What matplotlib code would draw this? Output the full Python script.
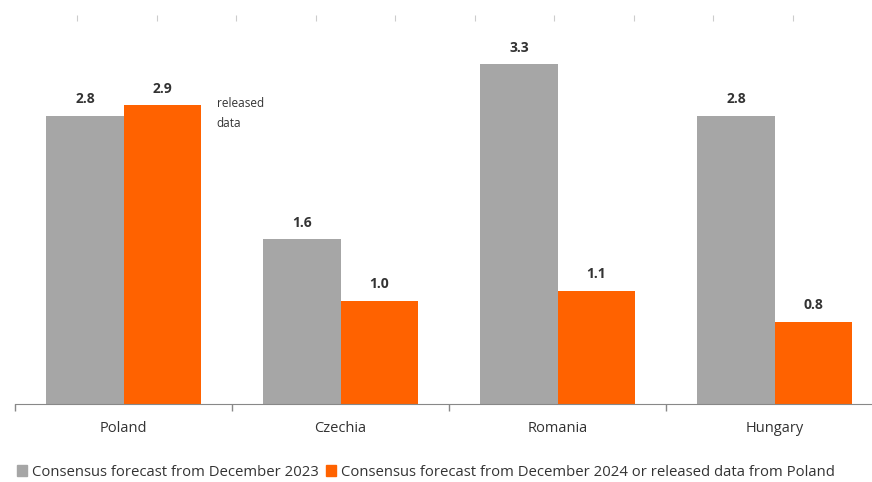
import matplotlib.pyplot as plt
from matplotlib.patches import Patch

plt.rcParams['font.family'] = ['Open Sans', 'DejaVu Sans']

countries = ['Poland', 'Czechia', 'Romania', 'Hungary']
forecast_2023 = [2.8, 1.6, 3.3, 2.8]
forecast_2024 = [2.9, 1.0, 1.1, 0.8]
legend_labels = ['Consensus forecast from December 2023',
                 'Consensus forecast from December 2024 or released data from Poland']

grey = '#A6A6A6'
orange = '#FF6200'
text_col = '#333333'

fig = plt.figure(figsize=(8.72, 4.82), dpi=100)
# axes is wider than the figure on purpose: the right side is cut off
ax = fig.add_axes([15 / 872, (482 - 404) / 482, 868 / 872, (404 - 18) / 482])

w = 0.355
x = list(range(len(countries)))
b1 = ax.bar([i - w / 2 for i in x], forecast_2023, w, color=grey)
b2 = ax.bar([i + w / 2 for i in x], forecast_2024, w, color=orange)

for bars, vals in ((b1, forecast_2023), (b2, forecast_2024)):
    for r, v in zip(bars, vals):
        ax.annotate(f'{v:.1f}', (r.get_x() + r.get_width() / 2, v),
                    xytext=(0, 7), textcoords='offset points',
                    ha='center', va='bottom', fontsize=10, fontweight='bold',
                    color=text_col)

ax.text(0.43, 2.98, 'released\ndata', ha='left', va='top', fontsize=8.5,
        color=text_col, linespacing=1.7, transform=ax.transData)

ax.set_xlim(-0.5, 3.5)
ax.set_ylim(0, 3.75)
ax.set_yticks([])
ax.set_xticks([-0.5, 0.5, 1.5, 2.5], minor=False)
ax.set_xticklabels([])
ax.set_xticks(x, minor=True)
ax.set_xticklabels(countries, minor=True, fontsize=10.5, color=text_col)
ax.tick_params(axis='x', which='major', length=5, color='#888888', width=1)
ax.tick_params(axis='x', which='minor', length=0, pad=12)

for s in ('top', 'right', 'left'):
    ax.spines[s].set_visible(False)
ax.spines['bottom'].set_color('#888888')

# faint tick marks along the top
top = ax.secondary_xaxis('top')
top.set_xticks([-0.5 + (77 - 15 + k * 79.5) / 217 for k in range(10)])
top.set_xticklabels([])
top.tick_params(length=4, color='#cccccc', width=0.8, direction='inout')
top.spines['top'].set_visible(False)

handles = [Patch(color=grey), Patch(color=orange)]
fig.legend(handles, legend_labels, loc='lower left', bbox_to_anchor=(0.017, 0.0),
           ncol=2, frameon=False, fontsize=10.7, handlelength=0.7, handleheight=0.7,
           handletextpad=0.3, columnspacing=0.5, labelcolor=text_col,
           borderaxespad=0.0, borderpad=0.15)

fig.savefig('out.png', dpi=100)
